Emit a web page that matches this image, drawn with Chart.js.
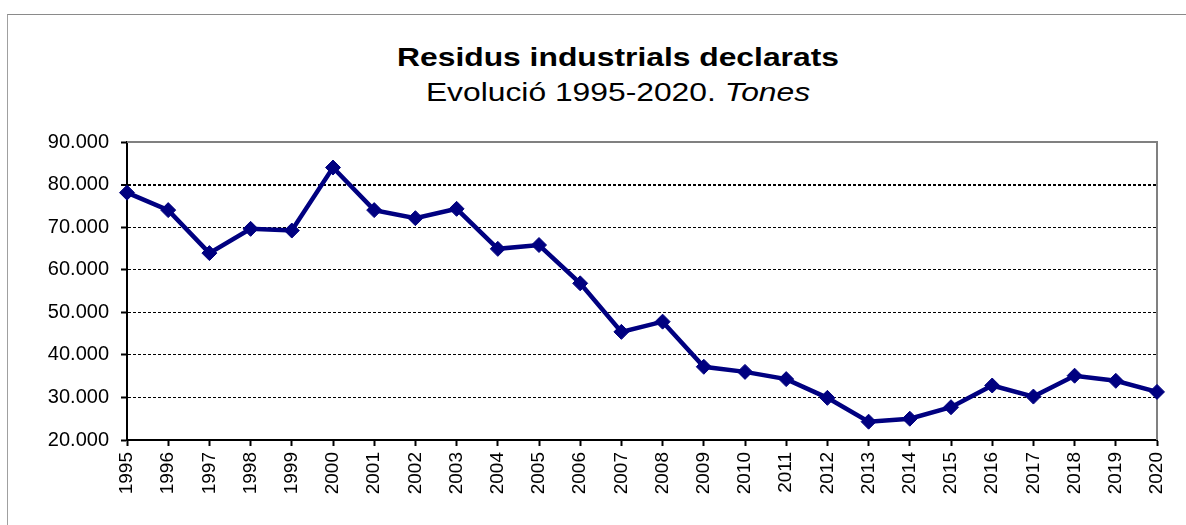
<!DOCTYPE html>
<html>
<head>
<meta charset="utf-8">
<script src="https://cdn.jsdelivr.net/npm/chart.js@4"></script>
<style>
  body { margin: 0; background: #fff; }
  .wrap { position: relative; width: 1186px; height: 525px; overflow: hidden; font-family: "Liberation Sans", Arial, sans-serif; }
  .frame { position: absolute; left: 7px; top: 14px; width: 1200px; height: 600px; border-top: 1px solid #8a8a8a; border-left: 1px solid #a0a0a0; }
  .title, .subtitle { position: absolute; left: 618px; white-space: nowrap; color: #000; transform: translateX(-50%) scaleX(1.2); }
  .title { top: 42px; font-size: 26.5px; font-weight: bold; }
  .subtitle { top: 77px; font-size: 26.5px; }
  canvas { position: absolute; left: 0; top: 0; }
</style>
</head>
<body>
<div class="wrap">
  <div class="frame"></div>
  <div class="title">Residus industrials declarats</div>
  <div class="subtitle">Evolució 1995-2020. <i>Tones</i></div>
  <canvas id="residus" width="1186" height="525"></canvas>
</div>
<script>
const years = ['1995', '1996', '1997', '1998', '1999', '2000', '2001', '2002', '2003', '2004', '2005', '2006', '2007',
  '2008', '2009', '2010', '2011', '2012', '2013', '2014', '2015', '2016', '2017', '2018', '2019', '2020'];
const tones = [78100, 74000, 63900, 69600, 69200, 84000, 74000, 72100, 74300, 64900, 65800, 56800, 45400,
  47800, 37200, 36000, 34300, 29900, 24300, 25000, 27700, 32800, 30200, 35100, 33900, 31300];
const yMin = 20000;
const yMax = 90000;
const yStep = 10000;

function fmt(v) {
  return String(v).replace(/\B(?=(\d{3})+(?!\d))/g, '.');
}

// gray frame on top and right of the plot area
const plotFrame = {
  id: 'plotFrame',
  beforeDatasetsDraw(chart) {
    const a = chart.chartArea;
    const ctx = chart.ctx;
    ctx.save();
    ctx.strokeStyle = '#808080';
    ctx.lineWidth = 2;
    ctx.beginPath();
    ctx.moveTo(a.left, a.top);
    ctx.lineTo(a.right, a.top);
    ctx.lineTo(a.right, a.bottom);
    ctx.stroke();
    ctx.restore();
  }
};

new Chart(document.getElementById('residus'), {
  type: 'line',
  data: {
    labels: years,
    datasets: [{
      data: tones,
      borderColor: '#000080',
      backgroundColor: '#000080',
      borderWidth: 4.5,
      pointStyle: 'rectRot',
      pointRadius: 7.5,
      pointBorderWidth: 1,
      tension: 0
    }]
  },
  options: {
    responsive: false,
    animation: false,
    layout: { padding: { top: 142, right: 29, left: 0, bottom: 0 } },
    plugins: {
      legend: { display: false },
      tooltip: { enabled: false }
    },
    scales: {
      x: {
        offset: false,
        afterFit: (s) => { s.height = 85; },
        grid: { drawOnChartArea: false, offset: false, tickLength: 6, tickColor: '#000', tickWidth: 2 },
        border: { color: '#000', width: 2 },
        ticks: {
          autoSkip: false, maxRotation: 90, minRotation: 90, padding: 6,
          color: '#000', font: { family: 'Liberation Sans', size: 19 }
        }
      },
      y: {
        min: yMin,
        max: yMax,
        afterFit: (s) => { s.width = 127; },
        grid: {
          color: (c) => c.tick && c.tick.value === yMax ? 'rgba(0,0,0,0)' : '#000',
          lineWidth: (c) => c.tick && c.tick.value === 80000 ? 2 : 1,
          tickLength: 6, tickColor: '#000', tickWidth: 2
        },
        border: { color: '#000', width: 2, dash: [3, 2] },
        ticks: {
          stepSize: yStep, padding: 12, color: '#000',
          font: { family: 'Liberation Sans', size: 20 },
          callback: (v) => fmt(v)
        }
      }
    }
  },
  plugins: [plotFrame]
});
</script>
</body>
</html>
